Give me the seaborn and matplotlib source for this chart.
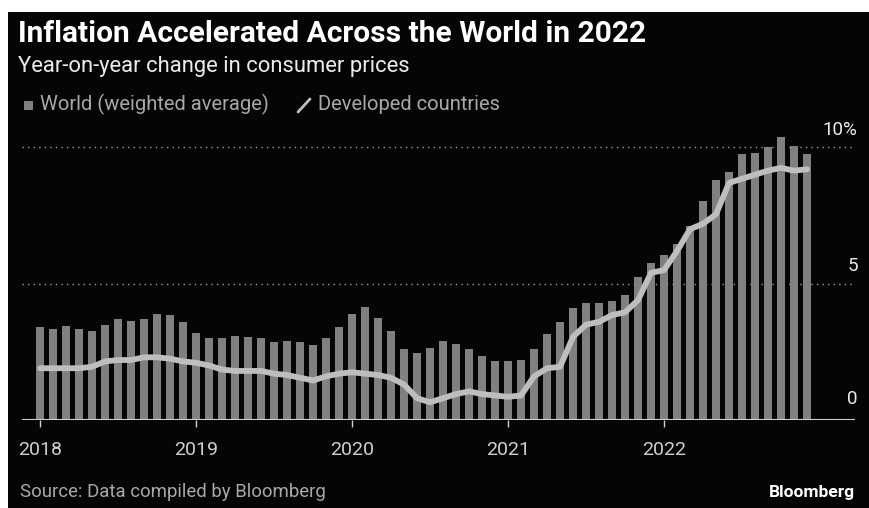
import numpy as np
import pandas as pd
import matplotlib
matplotlib.use('Agg')
import matplotlib.pyplot as plt
import seaborn as sns
from matplotlib.patches import Rectangle
from matplotlib.lines import Line2D

# monthly data, Jan 2018 - Dec 2022
months = pd.date_range('2018-01-01', periods=60, freq='MS')
world = [3.4, 3.35, 3.45, 3.35, 3.25, 3.5, 3.7, 3.65, 3.7, 3.9, 3.85, 3.6,
         3.2, 3.0, 3.0, 3.1, 3.05, 3.0, 2.85, 2.9, 2.85, 2.75, 3.0, 3.4,
         3.9, 4.15, 3.75, 3.25, 2.6, 2.45, 2.65, 2.9, 2.8, 2.6, 2.35, 2.15,
         2.15, 2.2, 2.6, 3.15, 3.6, 4.1, 4.3, 4.3, 4.35, 4.6, 5.25, 5.75,
         6.05, 6.45, 7.1, 8.05, 8.8, 9.1, 9.75, 9.8, 10.0, 10.4, 10.05, 9.75]
developed = [1.9, 1.9, 1.9, 1.9, 1.95, 2.15, 2.2, 2.2, 2.3, 2.3, 2.25, 2.15,
             2.1, 2.0, 1.85, 1.8, 1.8, 1.8, 1.7, 1.65, 1.55, 1.45, 1.6, 1.7,
             1.75, 1.7, 1.65, 1.55, 1.3, 0.8, 0.65, 0.8, 0.95, 1.05, 0.95, 0.9,
             0.85, 0.9, 1.6, 1.9, 1.95, 3.05, 3.5, 3.6, 3.85, 3.95, 4.4, 5.4,
             5.5, 6.2, 7.0, 7.2, 7.55, 8.7, 8.85, 9.0, 9.15, 9.25, 9.15, 9.2]
year_labels = ['2018', '2019', '2020', '2021', '2022']
y_ticks = [0, 5, 10]
y_labels = ['0', '5', '10%']

df = pd.DataFrame({'month': months, 'world': world, 'developed': developed})
df['pos'] = np.arange(len(df))

BG = '#050505'
BAR = '#808080'
LINE = '#bebebe'
TXT = '#ececec'
MUTED = '#a8a8a8'

sns.set_style('dark')
plt.rcParams['font.family'] = ['Roboto', 'DejaVu Sans']

W, H = 869, 508
fig = plt.figure(figsize=(W / 100, H / 100), dpi=100, facecolor='white')
# scanned page: white margin at top/left, black panel
fig.patches.append(Rectangle((8 / W, 0), 1, 1 - 12 / H, transform=fig.transFigure,
                             facecolor=BG, edgecolor='none', zorder=-10))

ax = fig.add_axes([22 / W, 88 / H, 833 / W, 284 / H])
ax.set_facecolor(BG)
ax.patch.set_alpha(0)

sns.barplot(data=df, x='pos', y='world', native_scale=True, color=BAR,
            width=0.6, saturation=1, linewidth=0, ax=ax, zorder=2)
sns.lineplot(data=df, x='pos', y='developed', color=LINE, lw=4.2,
             solid_capstyle='round', solid_joinstyle='round', ax=ax, zorder=3)

ax.set_xlim(-1.385, 62.69)
ax.set_ylim(0, 10.42)
for s in ax.spines.values():
    s.set_visible(False)
ax.grid(False)

# dotted gridlines and baseline
for v in [5, 10]:
    ax.axhline(v, color='#9a9a9a', lw=1, ls=(0, (1, 3)), zorder=1)
ax.axhline(0, color='#cfcfcf', lw=1.5, zorder=4)

for v, lab in zip(y_ticks, y_labels):
    ax.annotate(lab, xy=(1.0, v), xycoords=('axes fraction', 'data'),
                xytext=(2, 6 if v else 9), textcoords='offset points',
                ha='right', va='bottom', color=TXT, fontsize=13.5)

ax.set_yticks([])
ax.set_xticks(df['pos'][df['month'].dt.month == 1])
ax.set_xticklabels(year_labels)
ax.tick_params(axis='x', colors='#cfcfcf', length=5, width=1, pad=10,
               labelsize=14, direction='out', bottom=True)
ax.set_xlabel('')
ax.set_ylabel('')

# titles
fig.text(18 / W, 1 - 42 / H, 'Inflation Accelerated Across the World in 2022',
         color='white', fontsize=21.5, fontweight='bold', va='baseline')
fig.text(18 / W, 1 - 72 / H, 'Year-on-year change in consumer prices',
         color=TXT, fontsize=15.8, va='baseline')

# legend
fig.patches.append(Rectangle((24 / W, 1 - 110 / H), 9 / W, 9 / H, transform=fig.transFigure,
                             facecolor=BAR, edgecolor='none'))
fig.text(40 / W, 1 - 110 / H, 'World (weighted average)', color=MUTED,
         fontsize=14.5, va='baseline')
fig.lines.append(Line2D([298 / W, 310 / W], [1 - 112 / H, 1 - 99 / H],
                        transform=fig.transFigure, color=LINE, lw=2))
fig.text(318 / W, 1 - 110 / H, 'Developed countries', color=MUTED,
         fontsize=14.5, va='baseline')

# footer
fig.text(20 / W, 1 - 497 / H, 'Source: Data compiled by Bloomberg', color=MUTED,
         fontsize=13.4, va='baseline')
fig.text(855 / W, 1 - 497 / H, 'Bloomberg', color='white', fontsize=12.5,
         fontweight='bold', ha='right', va='baseline')

fig.savefig('out.png', dpi=100, facecolor=fig.get_facecolor())
